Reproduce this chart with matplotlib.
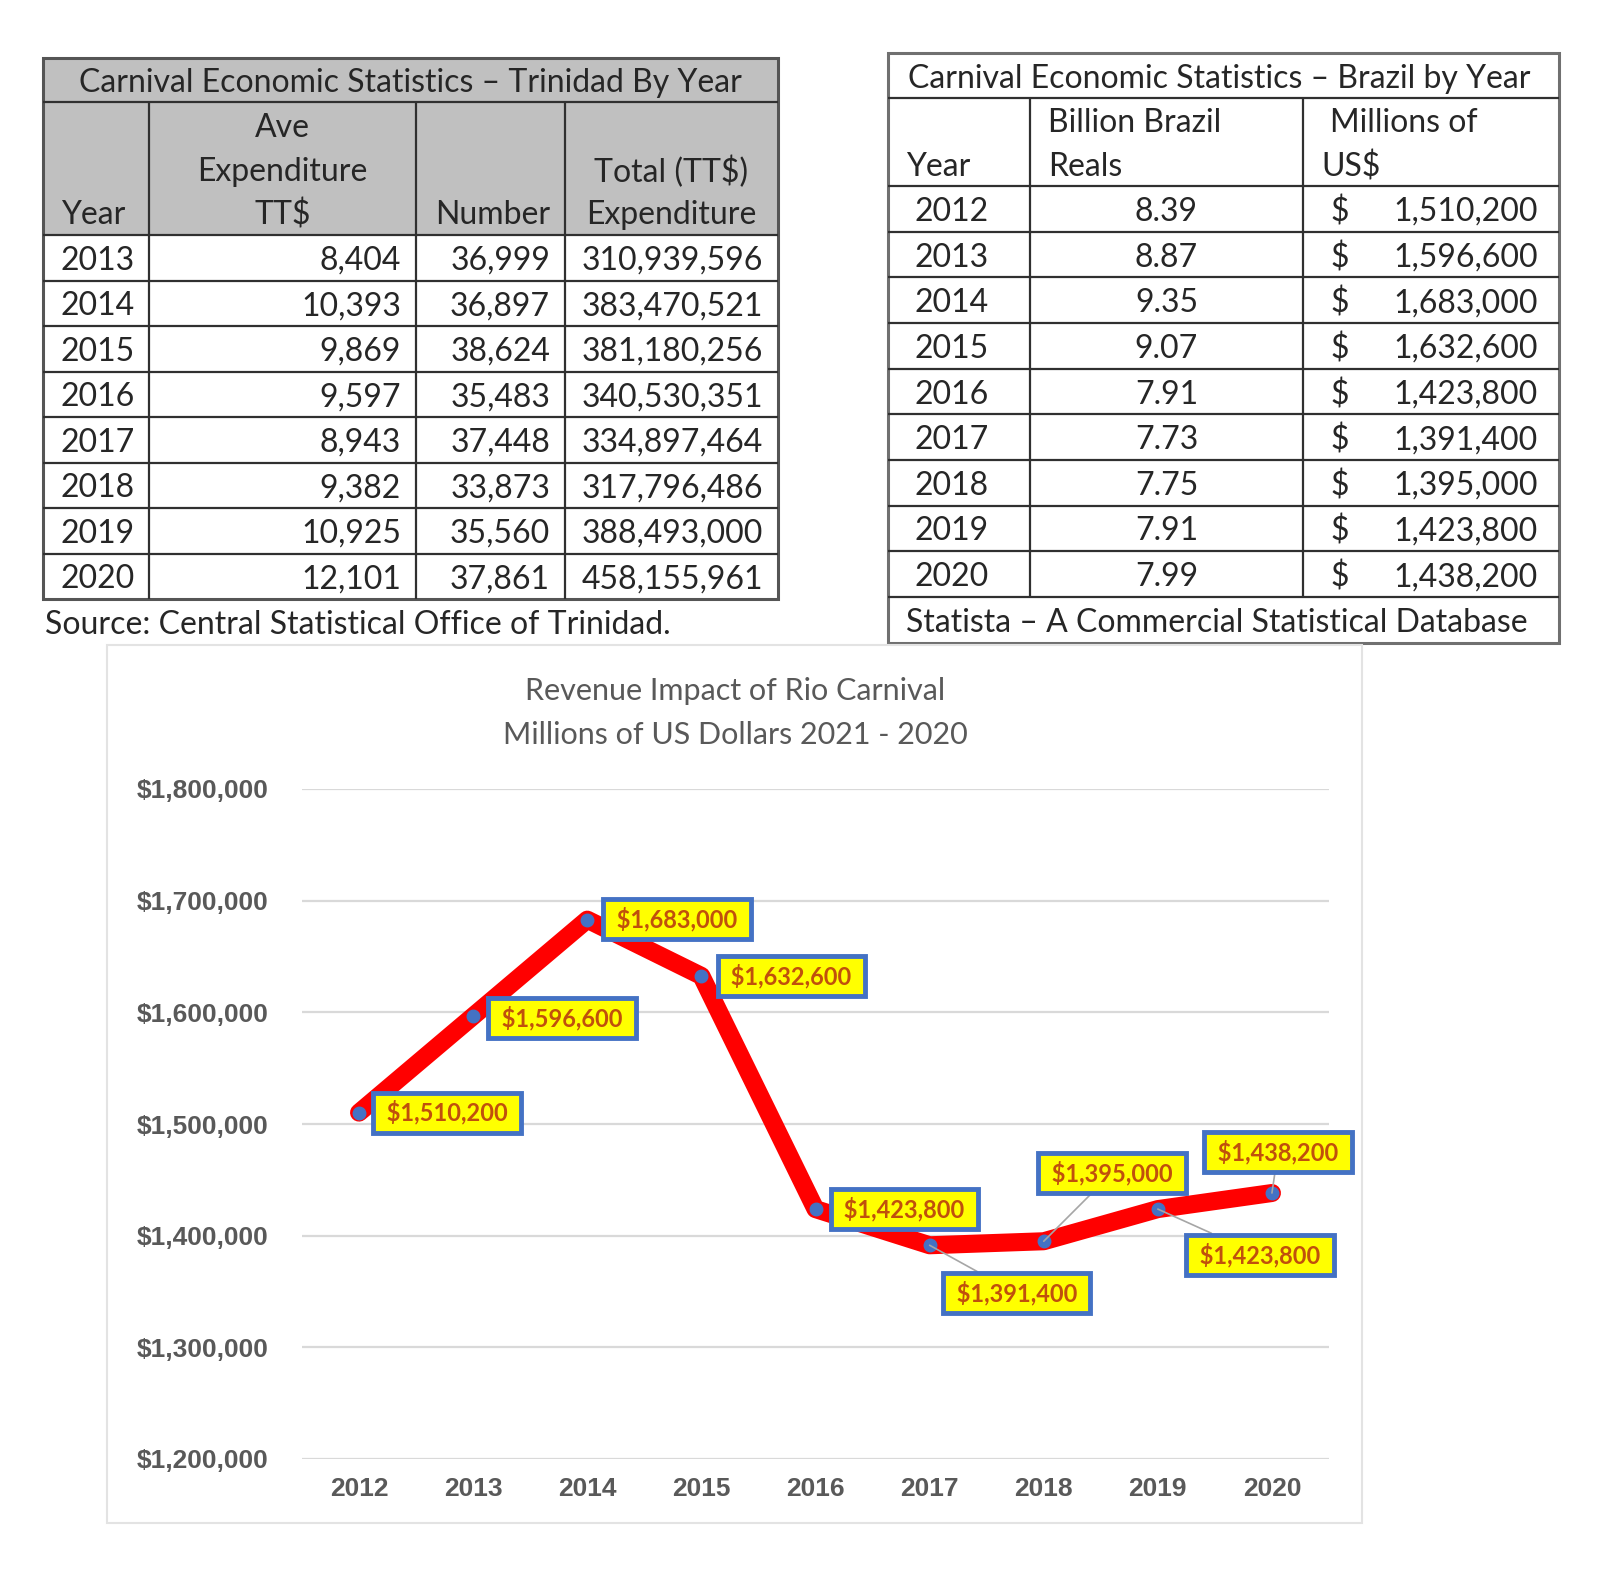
import matplotlib.pyplot as plt
from matplotlib.patches import Rectangle

# Datos - Trinidad
tt_years = [2013, 2014, 2015, 2016, 2017, 2018, 2019, 2020]
tt_ave_exp = [8404, 10393, 9869, 9597, 8943, 9382, 10925, 12101]
tt_number = [36999, 36897, 38624, 35483, 37448, 33873, 35560, 37861]
tt_total = [310939596, 383470521, 381180256, 340530351, 334897464,
            317796486, 388493000, 458155961]

# Datos - Brasil
br_years = [2012, 2013, 2014, 2015, 2016, 2017, 2018, 2019, 2020]
br_reals = [8.39, 8.87, 9.35, 9.07, 7.91, 7.73, 7.75, 7.91, 7.99]
br_usd = [1510200, 1596600, 1683000, 1632600, 1423800, 1391400,
          1395000, 1423800, 1438200]

chart_yticks = [1200000, 1300000, 1400000, 1500000, 1600000, 1700000, 1800000]

W, H = 1600, 1594
fig = plt.figure(figsize=(W / 100, H / 100), dpi=100)
fig.patch.set_facecolor('white')

# capa de fondo en pixeles para las tablas
bg = fig.add_axes([0, 0, 1, 1])
bg.set_xlim(0, W)
bg.set_ylim(H, 0)
bg.axis('off')

TFONT = 'Lato'
TXT = '#262626'
FS = 23
LINE = '#303030'


def hline(x0, x1, y, color=LINE, lw=1.6):
    bg.plot([x0, x1], [y, y], color=color, lw=lw, solid_capstyle='butt')


def vline(x, y0, y1, color=LINE, lw=1.6):
    bg.plot([x, x], [y0, y1], color=color, lw=lw, solid_capstyle='butt')


def txt(x, y, s, ha='left', **kw):
    bg.text(x, y + 3, s, ha=ha, va='center', fontsize=FS, family=TFONT,
            color=TXT, **kw)


# ---------------- Tabla Trinidad ----------------
xs = [43, 149, 416, 565, 778]
y_title, y_head, y_data, y_end = 58, 102, 235, 599
row_h = (y_end - y_data) / len(tt_years)

bg.add_patch(Rectangle((xs[0], y_title), xs[-1] - xs[0], y_data - y_title,
                       facecolor='#C0C0C0', edgecolor='none'))
txt((xs[0] + xs[-1]) / 2, (y_title + y_head) / 2,
    'Carnival Economic Statistics \u2013 Trinidad By Year', ha='center')
line_gap = 43.5
y_last = 212
txt(xs[0] + 18, y_last, 'Year')
txt((xs[1] + xs[2]) / 2, y_last - 2 * line_gap, 'Ave', ha='center')
txt((xs[1] + xs[2]) / 2, y_last - line_gap, 'Expenditure', ha='center')
txt((xs[1] + xs[2]) / 2, y_last, 'TT$', ha='center')
txt(xs[3] - 15, y_last, 'Number', ha='right')
txt((xs[3] + xs[4]) / 2, y_last - line_gap, 'Total (TT$)', ha='center')
txt((xs[3] + xs[4]) / 2, y_last, 'Expenditure', ha='center')

for i, yr in enumerate(tt_years):
    yc = y_data + (i + 0.5) * row_h
    txt(xs[0] + 18, yc, str(yr))
    txt(xs[2] - 15, yc, f'{tt_ave_exp[i]:,}', ha='right')
    txt(xs[3] - 15, yc, f'{tt_number[i]:,}', ha='right')
    txt(xs[4] - 15, yc, f'{tt_total[i]:,}', ha='right')

hline(xs[0], xs[-1], y_head)
for i in range(len(tt_years)):
    hline(xs[0], xs[-1], y_data + i * row_h)
for x in xs[1:-1]:
    vline(x, y_head, y_end)
bg.add_patch(Rectangle((xs[0], y_title), xs[-1] - xs[0], y_end - y_title,
                       facecolor='none', edgecolor='#555555', lw=2.2))
txt(45, 622, 'Source: Central Statistical Office of Trinidad.')

# ---------------- Tabla Brasil ----------------
bx = [888, 1030, 1303, 1559]
b_title, b_head, b_data, b_end, b_foot = 53, 98, 186, 597, 643
b_row = (b_end - b_data) / len(br_years)

txt((bx[0] + bx[-1]) / 2 - 4, (b_title + b_head) / 2,
    'Carnival Economic Statistics \u2013 Brazil by Year', ha='center')
txt(bx[0] + 18, 164, 'Year')
txt(bx[1] + 18, 120, 'Billion Brazil')
txt(bx[1] + 18, 164, 'Reals')
txt(bx[2] + 27, 120, 'Millions of')
txt(bx[2] + 18, 164, 'US$')

for i, yr in enumerate(br_years):
    yc = b_data + (i + 0.5) * b_row
    txt(bx[0] + 26, yc, str(yr))
    txt((bx[1] + bx[2]) / 2, yc, f'{br_reals[i]:.2f}', ha='center')
    txt(bx[2] + 27, yc, '$')
    txt(bx[3] - 21, yc, f'{br_usd[i]:,}', ha='right')

txt(bx[0] + 18, (b_end + b_foot) / 2,
    'Statista \u2013 A Commercial Statistical Database')

hline(bx[0], bx[-1], b_head)
for i in range(len(br_years) + 1):
    hline(bx[0], bx[-1], b_data + i * b_row)
for x in bx[1:-1]:
    vline(x, b_head, b_end)
bg.add_patch(Rectangle((bx[0], b_title), bx[-1] - bx[0], b_foot - b_title,
                       facecolor='none', edgecolor='#707070', lw=2.2))

# ---------------- Grafica ----------------
bg.add_patch(Rectangle((107, 645), 1362 - 107, 1523 - 645,
                       facecolor='none', edgecolor='#E3E3E3', lw=1.5))
bg.text(735, 691, 'Revenue Impact of Rio Carnival', ha='center', va='center',
        fontsize=22, family=TFONT, color='#595959')
bg.text(735, 735, 'Millions of US Dollars 2021 - 2020', ha='center',
        va='center', fontsize=22, family=TFONT, color='#595959')

ax_l, ax_r, ax_t, ax_b = 302, 1329, 789, 1459
ax = fig.add_axes([ax_l / W, 1 - ax_b / H, (ax_r - ax_l) / W, (ax_b - ax_t) / H])
ax.patch.set_alpha(0)
xpos = list(range(len(br_years)))
ax.plot(xpos, br_usd, color='#FF0000', lw=13, solid_joinstyle='round',
        solid_capstyle='round', zorder=3)
ax.plot(xpos, br_usd, 'o', color='#4472C4', ms=9, zorder=4)

ax.set_xlim(-0.5, len(br_years) - 0.5)
ax.set_ylim(chart_yticks[0], chart_yticks[-1])
ax.set_yticks(chart_yticks)
ax.set_yticklabels([f'${v:,}' for v in chart_yticks])
ax.set_xticks(xpos)
ax.set_xticklabels([str(y) for y in br_years])
ax.grid(axis='y', color='#D9D9D9', lw=1.6, zorder=0)
ax.set_axisbelow(True)
for s in ax.spines.values():
    s.set_visible(False)
ax.tick_params(axis='y', length=0, pad=24, labelsize=19, labelcolor='#595959')
ax.tick_params(axis='x', length=0, pad=13, labelsize=19, labelcolor='#595959')
for lab in ax.get_xticklabels() + ax.get_yticklabels():
    lab.set_fontweight('bold')
    lab.set_family('Liberation Sans')

# etiquetas de datos: desplazamiento en pixeles y si llevan linea guia
label_offsets = [(88, 0), (89, -2), (90, 1), (90, 0), (89, 0),
                 (87, -48), (68, 68), (102, -46), (6, 41)]
leaders = [False, False, False, False, False, True, True, True, True]
for i, v in enumerate(br_usd):
    dx, dy = label_offsets[i]
    arrow = dict(arrowstyle='-', color='#A6A6A6', lw=1.2,
                 shrinkA=0, shrinkB=0) if leaders[i] else None
    ax.annotate(f' ${v:,} ', xy=(i, v), xytext=(dx, dy),
                textcoords='offset pixels', ha='center', va='center',
                fontsize=17, fontweight='bold', family=TFONT,
                color='#C0500C', zorder=6, arrowprops=arrow,
                bbox=dict(boxstyle='square,pad=0.33', facecolor='#FFFF00',
                          edgecolor='#4472C4', lw=3.5))

fig.savefig('out.png', dpi=100, facecolor='white')
